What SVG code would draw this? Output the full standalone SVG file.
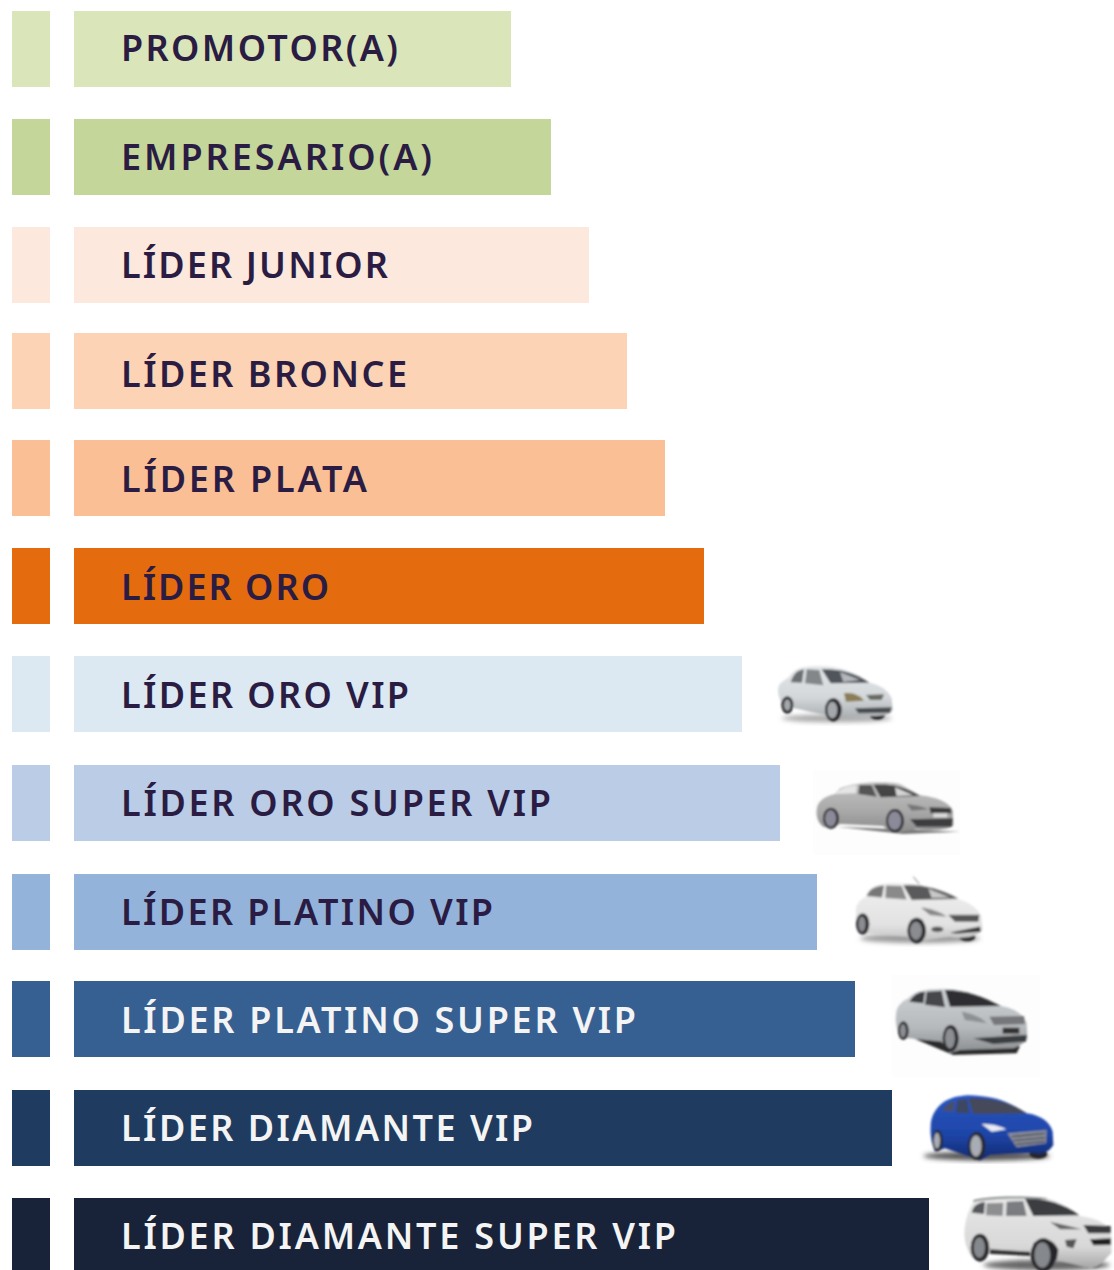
<svg xmlns="http://www.w3.org/2000/svg" width="1114" height="1270" viewBox="0 0 1114 1270">
<defs>
<style>
text{font-family:"Noto Sans","Open Sans","Liberation Sans",sans-serif;font-size:36px;font-weight:600;fill:#2a1c42}
text.l{fill:#f4f4f4}
.d{fill:#26282c}
</style>
<linearGradient id="g1" x1="0" y1="0" x2="0" y2="1"><stop offset="0" stop-color="#e4e7e9"/><stop offset=".6" stop-color="#d3d7da"/><stop offset="1" stop-color="#a9adb0"/></linearGradient>
<linearGradient id="g2" x1="0" y1="0" x2="0" y2="1"><stop offset="0" stop-color="#c2c2c2"/><stop offset=".6" stop-color="#a8a8a8"/><stop offset="1" stop-color="#8c8c8c"/></linearGradient>
<linearGradient id="g3" x1="0" y1="0" x2="0" y2="1"><stop offset="0" stop-color="#f0f0f0"/><stop offset=".7" stop-color="#e2e2e2"/><stop offset="1" stop-color="#bdbdbd"/></linearGradient>
<linearGradient id="g4" x1="0" y1="0" x2="0" y2="1"><stop offset="0" stop-color="#cfd2d4"/><stop offset=".6" stop-color="#b6b9bc"/><stop offset="1" stop-color="#8a8d90"/></linearGradient>
<linearGradient id="g5" x1="0" y1="0" x2="0" y2="1"><stop offset="0" stop-color="#2a56c0"/><stop offset=".6" stop-color="#1e45a8"/><stop offset="1" stop-color="#12296e"/></linearGradient>
<linearGradient id="g6" x1="0" y1="0" x2="0" y2="1"><stop offset="0" stop-color="#e8e8e8"/><stop offset=".7" stop-color="#d8d8d8"/><stop offset="1" stop-color="#a6a6a6"/></linearGradient>
<filter id="s" x="-5%" y="-5%" width="110%" height="110%"><feGaussianBlur stdDeviation="2.4"/></filter>
<filter id="b" x="-20%" y="-50%" width="140%" height="200%"><feGaussianBlur stdDeviation="6"/></filter>
</defs>
<rect width="1114" height="1270" fill="#fff"/>
<g id="promotor"><rect x="12" y="11" width="38" height="76" fill="#dae6ba"/><rect x="74" y="11" width="437" height="76" fill="#dae6ba"/><text x="121" y="61" textLength="277">PROMOTOR(A)</text></g>
<g id="empresario"><rect x="12" y="119" width="38" height="76" fill="#c4d699"/><rect x="74" y="119" width="477" height="76" fill="#c4d699"/><text x="121" y="170" textLength="311">EMPRESARIO(A)</text></g>
<g id="lider-junior"><rect x="12" y="227" width="38" height="76" fill="#fce8dc"/><rect x="74" y="227" width="515" height="76" fill="#fce8dc"/><text x="121" y="278" textLength="267">LÍDER JUNIOR</text></g>
<g id="lider-bronce"><rect x="12" y="333" width="38" height="76" fill="#fcd3b4"/><rect x="74" y="333" width="553" height="76" fill="#fcd3b4"/><text x="121" y="387" textLength="286">LÍDER BRONCE</text></g>
<g id="lider-plata"><rect x="12" y="440" width="38" height="76" fill="#fabf95"/><rect x="74" y="440" width="591" height="76" fill="#fabf95"/><text x="121" y="492" textLength="246">LÍDER PLATA</text></g>
<g id="lider-oro"><rect x="12" y="548" width="38" height="76" fill="#e56c0e"/><rect x="74" y="548" width="630" height="76" fill="#e56c0e"/><text x="121" y="600" textLength="208">LÍDER ORO</text></g>
<g id="lider-oro-vip"><rect x="12" y="656" width="38" height="76" fill="#dce8f2"/><rect x="74" y="656" width="668" height="76" fill="#dce8f2"/><text x="121" y="708" textLength="288">LÍDER ORO VIP</text></g>
<g id="lider-oro-super-vip"><rect x="12" y="765" width="38" height="76" fill="#bacce6"/><rect x="74" y="765" width="706" height="76" fill="#bacce6"/><text x="121" y="816" textLength="430">LÍDER ORO SUPER VIP</text></g>
<g id="lider-platino-vip"><rect x="12" y="874" width="38" height="76" fill="#94b3db"/><rect x="74" y="874" width="743" height="76" fill="#94b3db"/><text x="121" y="925" textLength="372">LÍDER PLATINO VIP</text></g>
<g id="lider-platino-super-vip"><rect x="12" y="981" width="38" height="76" fill="#376092"/><rect x="74" y="981" width="781" height="76" fill="#376092"/><text class="l" x="121" y="1033" textLength="515">LÍDER PLATINO SUPER VIP</text></g>
<g id="lider-diamante-vip"><rect x="12" y="1090" width="38" height="76" fill="#1f3c60"/><rect x="74" y="1090" width="818" height="76" fill="#1f3c60"/><text class="l" x="121" y="1141" textLength="412">LÍDER DIAMANTE VIP</text></g>
<g id="lider-diamante-super-vip"><rect x="12" y="1198" width="38" height="72" fill="#182339"/><rect x="74" y="1198" width="855" height="72" fill="#182339"/><text class="l" x="121" y="1249" textLength="555">LÍDER DIAMANTE SUPER VIP</text></g>

<g transform="translate(760,650) scale(.33333)">
<g id="car-1" filter="url(#s)">
<ellipse cx="230" cy="205" rx="165" ry="12" fill="#aaa" filter="url(#b)"/>
<ellipse cx="352" cy="198" rx="22" ry="12" class="d"/>
<path d="M55,115C55,100 70,92 88,80C100,58 125,48 170,48C230,46 280,62 330,98C360,105 385,120 395,145L398,180C390,195 370,198 340,198L230,205C190,190 110,180 70,165C58,150 52,130 55,115Z" fill="url(#g1)"/>
<path d="M92,97C100,72 112,60 132,58L126,98Z" fill="#6d7072"/><path d="M140,58L178,60L190,106L135,100Z" fill="#83878a"/>
<path d="M185,58C230,56 280,65 328,98L212,100Z" fill="#50545a"/><path d="M240,66L300,90L250,96Z" fill="#b4b8bc"/>
<path d="M252,130C275,125 300,135 312,152L258,155Z" fill="#8b7d55"/><path d="M318,135L372,133L365,150L330,150Z" fill="#6a6a62"/>
<path d="M285,175L395,172L390,188L295,190Z" fill="#4a4d50"/>
<ellipse cx="82" cy="165" rx="18" ry="26" class="d"/><ellipse cx="82" cy="165" rx="10" ry="17" fill="#a4a7ab"/>
<ellipse cx="220" cy="180" rx="25" ry="35" class="d"/><ellipse cx="217" cy="180" rx="15" ry="25" fill="#a4a7ab"/>
</g>
</g>
<g transform="translate(760,650) scale(.33333)">
<g id="car-2">
<rect x="160" y="360" width="440" height="255" fill="#fdfdfd"/>
<g filter="url(#s)">
<path d="M230,530L600,545L430,552Z" fill="#777"/>
<path d="M170,480C172,455 190,440 225,432L240,415C280,395 390,392 420,402L480,436C530,442 565,455 578,480L580,525C570,540 520,542 470,538L430,545L390,545L370,528L240,522L210,535L190,530C175,520 168,500 170,480Z" fill="url(#g2)"/>
<path d="M225,432C240,415 265,408 290,406L288,430Z" fill="#e5e5e5"/><path d="M298,405L335,405L350,440L295,432Z" fill="#555"/>
<path d="M340,404C385,402 420,403 480,438L362,442Z" fill="#444"/><path d="M405,412L460,436L410,438Z" fill="#d5d5d5"/>
<path d="M440,462C465,465 490,470 505,478L455,482Z" fill="#777"/>
<path d="M508,472L572,474L575,490L512,490Z" fill="#3c3c40"/><rect x="520" y="490" width="42" height="12" fill="#ddd"/>
<path d="M450,508L578,505L576,530L470,530Z" fill="#3e3e40"/>
<ellipse cx="213" cy="505" rx="24" ry="32" class="d"/><ellipse cx="212" cy="505" rx="17" ry="25" fill="#8b8a98"/>
<ellipse cx="405" cy="512" rx="27" ry="35" class="d"/><ellipse cx="404" cy="512" rx="20" ry="28" fill="#8b8a98"/>
</g></g>
</g>
<g transform="translate(760,650) scale(.33333)">
<g id="car-3" filter="url(#s)">
<path d="M460,680L478,703" stroke="#777" stroke-width="3"/>
<ellipse cx="480" cy="865" rx="180" ry="14" fill="#999" filter="url(#b)"/>
<ellipse cx="622" cy="862" rx="24" ry="12" class="d"/>
<path d="M288,790C285,770 295,750 318,740C325,712 350,700 400,698C450,698 500,705 590,745C625,755 655,775 665,800L668,840C650,860 620,868 570,860L500,870L465,880L440,860L330,850L300,850C290,830 285,810 288,790Z" fill="url(#g3)"/>
<path d="M320,738C328,718 345,708 372,706L366,742Z" fill="#777"/><path d="M378,706L425,708L440,748L376,744Z" fill="#8a8a8a"/>
<path d="M430,706C480,702 540,715 595,746L455,750Z" fill="#5a5a5c"/><path d="M505,716L570,742L515,744Z" fill="#c9c9c9"/>
<path d="M483,773C510,775 540,785 560,800L510,795Z" fill="#888"/>
<path d="M565,795L658,795L655,815L585,815Z" fill="#555"/>
<path d="M570,848L660,830L662,845L590,850Z" fill="#333"/><ellipse cx="532" cy="838" rx="18" ry="8" fill="#555"/>
<ellipse cx="308" cy="822" rx="20" ry="32" class="d"/><ellipse cx="306" cy="822" rx="11" ry="23" fill="#8a8c90"/>
<ellipse cx="470" cy="842" rx="28" ry="38" class="d"/><ellipse cx="468" cy="842" rx="18" ry="28" fill="#8a8c90"/>
</g>
</g>

<g transform="translate(870,970) scale(.33333)">
<g id="car-4">
<rect x="65" y="15" width="445" height="305" fill="#fdfdfd"/>
<g filter="url(#s)">
<path d="M130,205L450,228L440,250L250,255Z" fill="#2c2c2c"/>
<path d="M78,135C78,110 95,95 115,85C130,65 160,55 225,56C290,58 340,80 395,108C430,115 460,130 470,160L472,205C460,225 440,230 430,235L270,240L240,250L215,215L120,205L90,205C82,185 75,155 78,135Z" fill="url(#g4)"/>
<path d="M118,95C130,75 145,65 165,65L160,100Z" fill="#3a3c40"/><path d="M170,65L215,62L225,112L165,104Z" fill="#45474b"/>
<path d="M225,60C285,60 340,80 392,108L240,110Z" fill="#2e2f33"/>
<path d="M275,125C305,130 335,142 350,160L285,150Z" fill="#8d9094"/>
<path d="M358,140L462,138L465,162L372,165Z" fill="#74777a"/>
<rect x="398" y="173" width="50" height="18" fill="#333"/>
<path d="M310,205L470,195L468,215L370,222Z" fill="#3a3c3f"/>
<ellipse cx="100" cy="182" rx="16" ry="28" class="d"/><ellipse cx="99" cy="182" rx="9" ry="20" fill="#8b8e92"/>
<ellipse cx="242" cy="205" rx="24" ry="40" class="d"/><ellipse cx="240" cy="205" rx="15" ry="30" fill="#8b8e92"/>
</g></g>
</g>
<g transform="translate(870,970) scale(.33333)">
<g id="car-5" filter="url(#s)">
<ellipse cx="350" cy="558" rx="190" ry="14" fill="#555" filter="url(#b)"/>
<ellipse cx="505" cy="552" rx="27" ry="15" class="d"/>
<path d="M182,470C182,440 195,415 222,395C250,378 290,372 330,378C390,382 430,405 470,430C510,435 540,455 548,485L550,525C535,550 510,555 490,548L360,555L330,572L300,560L225,535L195,545C185,520 180,495 182,470Z" fill="url(#g5)"/>
<path d="M218,422C225,405 240,395 255,392L250,425Z" fill="#48506a"/><path d="M262,390L292,388L298,430L258,428Z" fill="#3d4660"/>
<path d="M295,385C360,382 420,395 470,430L310,432Z" fill="#44485a"/>
<path d="M335,462C365,460 395,470 410,478L365,485Z" fill="#e8ecf4"/>
<path d="M412,490L530,480L528,520L440,532Z" fill="#8a8e9a"/>
<path d="M425,500L525,490M430,512L525,503M438,523L525,514" stroke="#3a3d48" stroke-width="4" fill="none"/>
<ellipse cx="203" cy="512" rx="15" ry="32" class="d"/><ellipse cx="201" cy="512" rx="9" ry="24" fill="#a8acb4"/>
<ellipse cx="320" cy="528" rx="26" ry="42" class="d"/><ellipse cx="318" cy="528" rx="17" ry="32" fill="#a8acb4"/>
</g>
</g>
<g transform="translate(870,970) scale(.33333)">
<g id="car-6" filter="url(#s)">
<ellipse cx="530" cy="885" rx="190" ry="16" fill="#666" filter="url(#b)"/>
<ellipse cx="665" cy="875" rx="32" ry="20" class="d"/>
<path d="M283,790C285,750 295,720 310,695C340,682 420,678 530,684C570,695 610,720 630,738C680,745 720,760 724,800L724,850C700,870 700,890 660,895L560,870L480,845L360,840L330,875L305,860C290,835 283,815 283,790Z" fill="url(#g6)"/>
<path d="M305,728C310,705 325,698 345,696L342,732Z" fill="#55585c"/><path d="M350,700L400,698L398,738L348,736Z" fill="#8c8e90"/>
<path d="M410,695L460,693L470,738L408,738Z" fill="#7a7c80"/>
<path d="M465,686C520,684 580,700 628,736L490,738Z" fill="#3a3c40"/>
<path d="M310,690C350,680 430,676 530,684L530,688C430,682 350,686 310,696Z" fill="#8c8e90"/>
<path d="M540,755C570,762 610,770 635,778L570,778Z" fill="#666"/>
<path d="M640,765L722,768L722,790L655,790Z" fill="#3a3a3c"/>
<path d="M585,810L620,808L610,835L590,830Z" fill="#555"/>
<path d="M660,808L722,805L722,825L670,826Z" fill="#222"/>
<path d="M360,838L480,845L480,858L360,852Z" fill="#333"/>
<path d="M490,820C520,800 550,805 565,840L560,870L500,860Z" fill="#26282c"/>
<ellipse cx="330" cy="833" rx="28" ry="42" class="d"/><ellipse cx="328" cy="833" rx="17" ry="31" fill="#85888c"/>
<ellipse cx="520" cy="855" rx="38" ry="50" class="d"/><ellipse cx="517" cy="855" rx="24" ry="38" fill="#85888c"/>
</g>
</g>
</svg>
